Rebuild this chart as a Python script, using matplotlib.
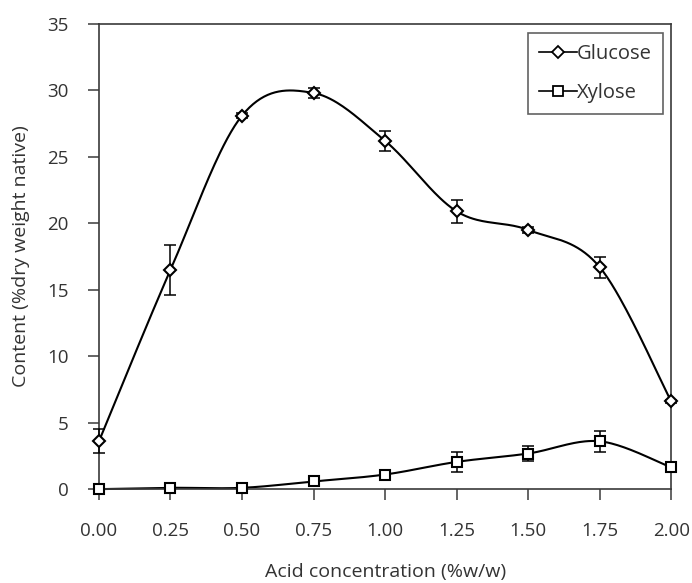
import numpy as np
import matplotlib
matplotlib.use("Agg")
import matplotlib.pyplot as plt
from matplotlib.lines import Line2D

plt.rcParams['font.family'] = ['Open Sans', 'DejaVu Sans']

acid = [0.00, 0.25, 0.50, 0.75, 1.00, 1.25, 1.50, 1.75, 2.00]
glucose = [3.6, 16.5, 28.1, 29.8, 26.2, 20.9, 19.5, 16.7, 6.6]
glucose_err = [0.9, 1.9, 0.2, 0.4, 0.75, 0.85, 0.2, 0.8, 0.1]
xylose = [0.0, 0.1, 0.1, 0.58, 1.1, 2.05, 2.68, 3.6, 1.63]
xylose_err = [0.0, 0.0, 0.0, 0.0, 0.1, 0.75, 0.6, 0.8, 0.1]
xticks = [0.00, 0.25, 0.50, 0.75, 1.00, 1.25, 1.50, 1.75, 2.00]
yticks = [0, 5, 10, 15, 20, 25, 30, 35]


def smooth(x, y, n=40):
    """Catmull-Rom style Bezier smoothing through every point."""
    x = np.asarray(x, float)
    y = np.asarray(y, float)
    px = np.concatenate([[x[0]], x, [x[-1]]])
    py = np.concatenate([[y[0]], y, [y[-1]]])
    xs, ys = [], []
    t = np.linspace(0, 1, n)
    for i in range(1, len(px) - 2):
        p0 = np.array([px[i - 1], py[i - 1]])
        p1 = np.array([px[i], py[i]])
        p2 = np.array([px[i + 1], py[i + 1]])
        p3 = np.array([px[i + 2], py[i + 2]])
        c1 = p1 + (p2 - p0) / 6.0
        c2 = p2 - (p3 - p1) / 6.0
        b = ((1 - t) ** 3)[:, None] * p1 + (3 * (1 - t) ** 2 * t)[:, None] * c1 \
            + (3 * (1 - t) * t ** 2)[:, None] * c2 + (t ** 3)[:, None] * p2
        xs.append(b[:, 0])
        ys.append(b[:, 1])
    return np.concatenate(xs), np.concatenate(ys)


fig = plt.figure(figsize=(6.92, 5.83), dpi=100)
ax = fig.add_axes([0.143, 0.161, 0.827, 0.798])

text_color = '#333333'
spine_color = '#3a3a3a'

gx, gy = smooth(acid, glucose)
xx, xy = smooth(acid, xylose)
ax.plot(gx, gy, color='black', lw=1.5, zorder=2, clip_on=False)
ax.plot(xx, xy, color='black', lw=1.5, zorder=2, clip_on=False)

ax.errorbar(acid, glucose, yerr=glucose_err, fmt='none', ecolor='black',
            elinewidth=1.1, capsize=4, capthick=1.1, zorder=3, clip_on=False)
ax.errorbar(acid, xylose, yerr=xylose_err, fmt='none', ecolor='black',
            elinewidth=1.1, capsize=4, capthick=1.1, zorder=3, clip_on=False)

ax.plot(acid, glucose, linestyle='none', marker='D', markersize=6.5,
        markerfacecolor='white', markeredgecolor='black', markeredgewidth=1.5,
        zorder=4, clip_on=False)
ax.plot(acid, xylose, linestyle='none', marker='s', markersize=7.5,
        markerfacecolor='white', markeredgecolor='black', markeredgewidth=1.5,
        zorder=4, clip_on=False)

ax.set_xlim(0, 2.0)
ax.set_ylim(0, 35)
ax.set_xticks(xticks)
ax.set_xticklabels([f"{v:.2f}" for v in xticks])
ax.set_yticks(yticks)
ax.set_yticklabels([str(v) for v in yticks])

for s in ax.spines.values():
    s.set_color(spine_color)
    s.set_linewidth(1.2)

ax.tick_params(axis='both', direction='out', length=8, width=1.1,
               color=spine_color, labelcolor=text_color, labelsize=13.5)
ax.tick_params(axis='x', pad=16)
ax.tick_params(axis='y', pad=14)

ax.set_xlabel('Acid concentration (%w/w)', fontsize=14, color=text_color,
              labelpad=16)
ax.set_ylabel('Content (%dry weight native)', fontsize=14, color=text_color,
              labelpad=12)

handles = [
    Line2D([], [], color='black', lw=1.2, marker='D', markersize=6,
           markerfacecolor='white', markeredgewidth=1.3),
    Line2D([], [], color='black', lw=1.2, marker='s', markersize=7,
           markerfacecolor='white', markeredgewidth=1.3),
]
leg = ax.legend(handles, ['Glucose', 'Xylose'], loc='upper right',
                bbox_to_anchor=(0.9855, 0.981), frameon=True, fancybox=False,
                edgecolor=spine_color, fontsize=14.5, handlelength=1.9,
                handletextpad=0.0, borderpad=0.55, labelspacing=0.95,
                borderaxespad=0.0)
leg.get_frame().set_linewidth(1.2)
for t in leg.get_texts():
    t.set_color(text_color)

fig.savefig('out.png', dpi=100)
